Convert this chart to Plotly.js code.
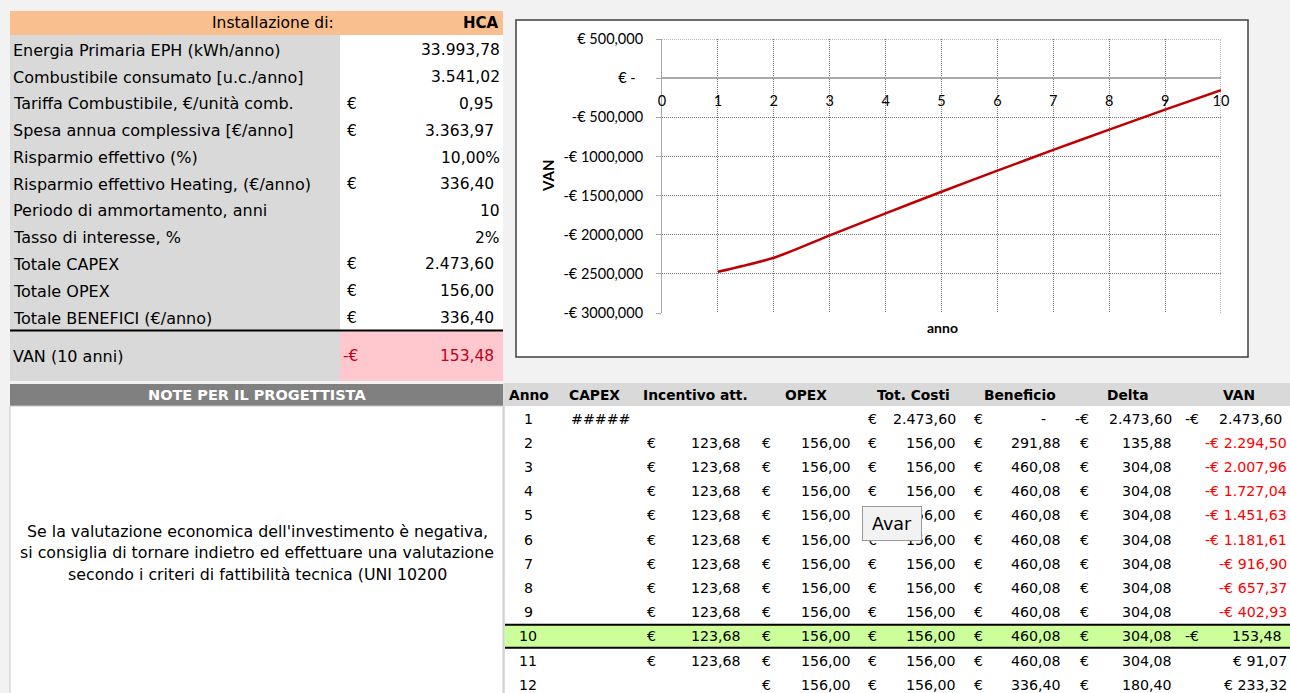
<!DOCTYPE html>
<html><head><meta charset="utf-8">
<script src="https://cdn.plot.ly/plotly-3.0.1.min.js"></script>
<style>html,body{margin:0;padding:0;background:#f2f2f2;overflow:hidden}</style>
</head><body><div id="chart" style="width:1290px;height:693px"></div>
<script>
// ---------- DATA ----------
const headerLabel = "Installazione di:";
const headerValue = "HCA";
const paramLabels = [
  "Energia Primaria EPH (kWh/anno)",
  "Combustibile consumato [u.c./anno]",
  "Tariffa Combustibile, €/unità comb.",
  "Spesa annua complessiva [€/anno]",
  "Risparmio effettivo (%)",
  "Risparmio effettivo Heating, (€/anno)",
  "Periodo di ammortamento, anni",
  "Tasso di interesse, %",
  "Totale CAPEX",
  "Totale OPEX",
  "Totale BENEFICI (€/anno)"
];
const paramValues = [33993.78, 3541.02, 0.95, 3363.97, 0.10, 336.40, 10, 0.02, 2473.60, 156.00, 336.40];
const paramKinds  = ["num","num","eur","eur","pct2","eur","int","pct0","eur","eur","eur"];
const vanLabel = "VAN (10 anni)";
const vanResult = -153.48;

const noteTitle = "NOTE PER IL PROGETTISTA";
const noteLines = [
  "Se la valutazione economica dell'investimento è negativa,",
  "si consiglia di tornare indietro ed effettuare una valutazione",
  "secondo i criteri di fattibilità tecnica (UNI 10200"
];

const tableHeaders = ["Anno","CAPEX","Incentivo att.","OPEX","Tot. Costi","Beneficio","Delta","VAN"];
const years     = [1,2,3,4,5,6,7,8,9,10,11,12];
const capex     = ["#####","","","","","","","","","","",""];
const incentivo = [null,123.68,123.68,123.68,123.68,123.68,123.68,123.68,123.68,123.68,123.68,null];
const opex      = [null,156.00,156.00,156.00,156.00,156.00,156.00,156.00,156.00,156.00,156.00,156.00];
const totCosti  = [2473.60,156.00,156.00,156.00,156.00,156.00,156.00,156.00,156.00,156.00,156.00,156.00];
const beneficio = [0,291.88,460.08,460.08,460.08,460.08,460.08,460.08,460.08,460.08,460.08,336.40];
const delta     = [-2473.60,135.88,304.08,304.08,304.08,304.08,304.08,304.08,304.08,304.08,304.08,180.40];
const van       = [-2473.60,-2294.50,-2007.96,-1727.04,-1451.63,-1181.61,-916.90,-657.37,-402.93,-153.48,91.07,233.32];
const periodo = 10;

const xTickVals = [0,1,2,3,4,5,6,7,8,9,10];
const yTickVals = [500,0,-500,-1000,-1500,-2000,-2500,-3000];
const yTickText = ["€ 500,000","€ -\u00a0\u00a0","-€ 500,000","-€ 1000,000","-€ 1500,000","-€ 2000,000","-€ 2500,000","-€ 3000,000"];
const buttonLabel = "Avar";

// ---------- HELPERS ----------
const W = 1290, H = 693;
const F = "DejaVu Sans";
const CF = "Lato";
function itNum(v, d) {
  const s = Math.abs(v).toFixed(d);
  let [i, f] = s.split('.');
  i = i.replace(/\B(?=(\d{3})+(?!\d))/g, '.');
  return f ? i + ',' + f : i;
}
const px = x => x / W, py = y => 1 - y / H;
const annotations = [];
const shapes = [];
function T(x, y, text, o) {
  o = o || {};
  annotations.push({
    xref:'paper', yref:'paper', x:px(x), y:py(y), text:text, showarrow:false,
    xanchor:o.anchor || 'left', yanchor:'middle', align:o.align || 'left',
    textangle:o.angle || 0,
    font:{family:o.family || F, size:o.size || 14, color:o.color || '#000'}
  });
}
function R(x0, y0, x1, y1, fill, line, lw) {
  shapes.push({type:'rect', xref:'paper', yref:'paper', x0:px(x0), x1:px(x1), y0:py(y0), y1:py(y1),
    fillcolor:fill, line:{color:line || 'rgba(0,0,0,0)', width:lw || 0}, layer:'below'});
}
function L(x0, y0, x1, y1, color, w) {
  shapes.push({type:'line', xref:'paper', yref:'paper', x0:px(x0), x1:px(x1), y0:py(y0), y1:py(y1),
    line:{color:color, width:w}, layer:'below'});
}

// ---------- TOP-LEFT TABLE ----------
R(10, 11, 503, 35, '#fabf8f');
R(10, 35, 340, 381, '#d9d9d9');
R(340, 35, 503, 330, '#ffffff');
R(340, 331, 503, 381, '#ffc7ce');
L(10, 330.5, 503, 330.5, '#000000', 2);
T(336, 23, headerLabel, {anchor:'right', size:15.5});
T(501, 23, '<b>' + headerValue + '</b>', {anchor:'right', size:15});
const LBL = 16, NUM = 15.5;
paramLabels.forEach((lab, i) => {
  const y = 50.5 + i * 26.75;
  T(11, y, lab, {size:LBL});
  const v = paramValues[i], k = paramKinds[i];
  if (k === 'eur') {
    T(359, y, '€', {anchor:'right', size:NUM});
    T(496, y, itNum(v, 2), {anchor:'right', size:NUM});
  } else if (k === 'num') {
    T(502, y, itNum(v, 2), {anchor:'right', size:NUM});
  } else if (k === 'pct2') {
    T(502, y, itNum(v * 100, 2) + '%', {anchor:'right', size:NUM});
  } else if (k === 'pct0') {
    T(502, y, itNum(v * 100, 0) + '%', {anchor:'right', size:NUM});
  } else {
    T(502, y, itNum(v, 0), {anchor:'right', size:NUM});
  }
});
T(11, 356, vanLabel, {size:LBL});
T(360, 356, (vanResult < 0 ? '-€' : '€'), {anchor:'right', size:NUM, color:'#c0001a'});
T(496, 356, itNum(vanResult, 2), {anchor:'right', size:NUM, color:'#c0001a'});

// ---------- NOTES ----------
R(10, 384, 503, 406, '#808080');
R(10, 406, 503, 700, '#ffffff', '#c8c8c8', 1);
T(257, 394.5, '<b>' + noteTitle + '</b>', {anchor:'center', size:14.5, color:'#ffffff'});
noteLines.forEach((t, i) => T(257, 531 + i * 21.5, t, {anchor:'center', size:15.8}));

// ---------- BOTTOM-RIGHT TABLE ----------
R(505, 383, 1295, 406, '#d9d9d9');
R(505, 406, 1295, 700, '#ffffff');
const rowY = i => 418.5 + i * 24.2;
const iPer = years.indexOf(periodo);
R(505, rowY(iPer) - 11.5, 1295, rowY(iPer) + 11.5, '#ccff99');
L(505, rowY(iPer) - 11.5, 1295, rowY(iPer) - 11.5, '#000000', 2);
L(505, rowY(iPer) + 11.5, 1295, rowY(iPer) + 11.5, '#000000', 2);
const headX = [529, 594, 695, 806, 913, 1020, 1127, 1239];
tableHeaders.forEach((h, j) => T(headX[j], 395, '<b>' + h + '</b>', {anchor:'center', size:13.8}));
const TS = 14.2;
years.forEach((yr, i) => {
  const y = rowY(i);
  T(528, y, String(yr), {anchor:'center', size:TS});
  if (capex[i]) T(600, y, capex[i], {anchor:'center', size:TS});
  if (incentivo[i] !== null) { T(658, y, '€', {anchor:'right', size:TS}); T(743, y, itNum(incentivo[i], 2), {anchor:'right', size:TS}); }
  if (opex[i] !== null) { T(773, y, '€', {anchor:'right', size:TS}); T(853, y, itNum(opex[i], 2), {anchor:'right', size:TS}); }
  T(879, y, '€', {anchor:'right', size:TS}); T(958, y, itNum(totCosti[i], 2), {anchor:'right', size:TS});
  T(985, y, '€', {anchor:'right', size:TS});
  if (beneficio[i] === 0) T(1048, y, '-', {anchor:'right', size:TS});
  else T(1063, y, itNum(beneficio[i], 2), {anchor:'right', size:TS});
  T(1091, y, delta[i] < 0 ? '-€' : '€', {anchor:'right', size:TS});
  T(1174, y, itNum(delta[i], 2), {anchor:'right', size:TS});
  const v = van[i];
  if (i === 0 || yr === periodo) {
    T(1201, y, v < 0 ? '-€' : '€', {anchor:'right', size:TS});
    T(1284, y, itNum(v, 2), {anchor:'right', size:TS});
  } else {
    T(1289, y, (v < 0 ? '-€ ' : '€ ') + itNum(v, 2), {anchor:'right', size:TS, color: v < 0 ? '#ff0000' : '#000000'});
  }
});
L(504, 383, 504, 700, '#c8c8c8', 1);

// button overlay
annotations.push({xref:'paper', yref:'paper', x:px(892), y:py(523), text:buttonLabel, showarrow:false,
  xanchor:'center', yanchor:'middle', width:56, height:31, borderpad:1, borderwidth:1,
  bordercolor:'#9a9a9a', bgcolor:'#f2f2f2', font:{family:F, size:17.5, color:'#000'}});

// ---------- CHART BOX ----------
R(516, 20, 1248, 357, '#ffffff', '#404040', 1.5);
T(548, 176, '<b>VAN</b>', {anchor:'center', family:CF, size:15, angle:-90});
T(942, 327, '<b>anno</b>', {anchor:'center', family:CF, size:14});
// dotted plot-area edges (top and right), in data coordinates
shapes.push({type:'line', xref:'x', yref:'y', x0:0, x1:10, y0:500, y1:500, line:{color:'#7a7a7a', width:1, dash:'1px,1px'}, layer:'below'});
shapes.push({type:'line', xref:'x', yref:'y', x0:10, x1:10, y0:-3000, y1:500, line:{color:'#7a7a7a', width:1, dash:'1px,1px'}, layer:'below'});

const trace = {
  x: years.slice(0, iPer + 1), y: van.slice(0, iPer + 1),
  type:'scatter', mode:'lines', hoverinfo:'skip',
  line:{color:'#c00000', width:2.5, shape:'spline', smoothing:0.7}
};

const layout = {
  width:W, height:H, margin:{l:0, r:0, t:0, b:0},
  paper_bgcolor:'#f2f2f2', plot_bgcolor:'#ffffff', showlegend:false,
  xaxis:{domain:[px(662), px(1221)], range:[0, 10], anchor:'free', position:py(78),
    tickvals:xTickVals, showgrid:true, gridcolor:'#7a7a7a', griddash:'1px,1px', gridwidth:1,
    showline:false, zeroline:false, ticks:'', ticklabelstandoff:12,
    tickfont:{family:CF, size:14.5, color:'#000'}, fixedrange:true},
  yaxis:{domain:[py(313), py(39)], range:[-3000, 500], tickvals:yTickVals, ticktext:yTickText,
    showgrid:true, gridcolor:'#7a7a7a', griddash:'1px,1px', gridwidth:1,
    showline:true, linecolor:'#a8a8a8', linewidth:1, ticks:'outside', ticklen:5, tickcolor:'#a8a8a8',
    zeroline:true, zerolinecolor:'#a8a8a8', zerolinewidth:2, ticklabelstandoff:10,
    tickfont:{family:CF, size:14.5, color:'#000'}, fixedrange:true},
  shapes:shapes, annotations:annotations
};
Plotly.newPlot('chart', [trace], layout, {staticPlot:true, displayModeBar:false});
</script></body></html>
